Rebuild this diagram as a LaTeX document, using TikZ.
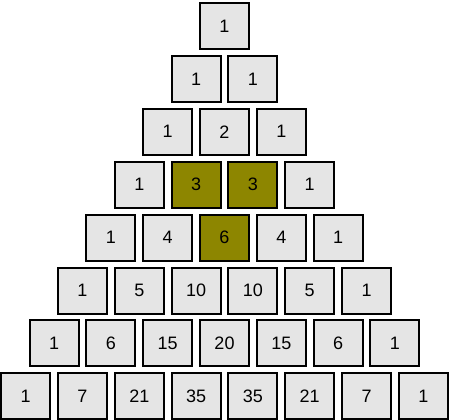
\documentclass[tikz,border=0pt]{standalone}
\usepackage{fontspec}
\setmainfont{Liberation Sans}
\begin{document}
\begin{tikzpicture}[x=0.75pt,y=-0.75pt,
  every node/.style={font=\fontsize{13.5}{16}\selectfont},
  cell/.style={draw,line width=1.5pt,fill=gray!20,minimum width=36.75pt,minimum height=34.5pt,inner sep=0pt},
  cell-3-1/.style={fill=olive},
  cell-3-2/.style={fill=olive},
  cell-4-2/.style={fill=olive}]
\useasboundingbox (0,0) rectangle (449,420);

% rows of the triangle
\foreach \vals [count=\r from 0] in {{1},{1,1},{1,2,1},{1,3,3,1},{1,4,6,4,1},
    {1,5,10,10,5,1},{1,6,15,20,15,6,1},{1,7,21,35,35,21,7,1}} {
  \foreach \v [count=\k from 0] in \vals {
    \node[cell,cell-\r-\k/.try] (n\r\k) at ({224.5+(\k-\r/2)*56.8},{26+\r*52.9}) {\v};
  }
}
\end{tikzpicture}
\end{document}
